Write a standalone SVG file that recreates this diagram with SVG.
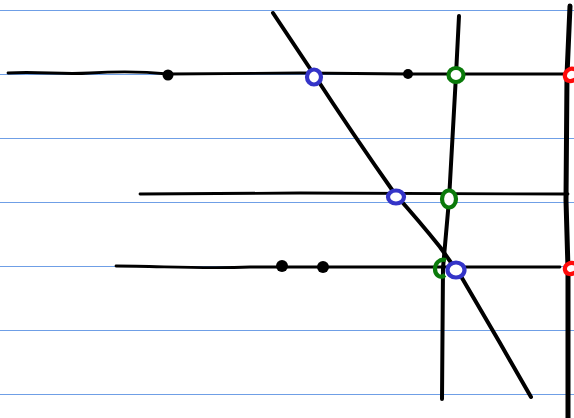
<svg xmlns="http://www.w3.org/2000/svg" width="574" height="418" viewBox="0 0 574 418">
<style>
.rule{stroke:#6f9fe6;stroke-width:1.2;fill:none}
.ink{stroke:#000;stroke-width:4;fill:none;stroke-linecap:round;stroke-linejoin:round}
.thick{stroke:#000;stroke-width:5;fill:none;stroke-linecap:round;stroke-linejoin:round}
.thin{stroke:#000;stroke-width:2.8;fill:none;stroke-linecap:round}
.dot{fill:#000}
.blue{stroke:#3434c8;stroke-width:4.2;fill:#fff}
.green{stroke:#0a7a0a;stroke-width:4.2;fill:#fff}
.red{stroke:#ff0a0a;stroke-width:4.2;fill:#fff}
</style>
<g id="rules">
<line class="rule" x1="0" y1="10.5" x2="574" y2="10.5"/>
<line class="rule" x1="0" y1="74.5" x2="574" y2="74.5"/>
<line class="rule" x1="0" y1="138.5" x2="574" y2="138.5"/>
<line class="rule" x1="0" y1="202.5" x2="574" y2="202.5"/>
<line class="rule" x1="0" y1="266.5" x2="574" y2="266.5"/>
<line class="rule" x1="0" y1="330.5" x2="574" y2="330.5"/>
<line class="rule" x1="0" y1="394.5" x2="574" y2="394.5"/>
</g>
<g id="connectors">
<path class="thin" d="M8 73 C40 71 60 75 90 73 S140 71 168 74 L300 73 L410 74 L574 74"/>
<path class="thin" d="M140 194 L300 193 L568 194"/>
<path class="thin" d="M116 266 C160 266 200 269 250 267 L560 267"/>
<path class="ink" d="M273 13 L313 73 Q352 133 395 194 Q420 222 440 247 L462 278 Q482 312 500 343 L531 397"/>
<path class="ink" d="M459 16 L456 75 L449 200 L443 268 L442 399"/>
<path class="thick" d="M570 6 L567 75 L566 200 L568 269 L568 418"/>
</g>
<g id="dots">
<circle class="dot" cx="168" cy="75" r="5.5"/>
<circle class="dot" cx="408" cy="74" r="5"/>
<circle class="dot" cx="282" cy="266" r="6"/>
<circle class="dot" cx="323" cy="267" r="6"/>
</g>
<g id="node-blue1"><ellipse class="blue" cx="314" cy="77" rx="7" ry="7.5"/></g>
<g id="node-green1"><ellipse class="green" cx="456" cy="75" rx="7.5" ry="7"/></g>
<g id="node-red1"><path class="red" d="M576 70 C570 66 564 72 565 77 C566 82 572 82 576 79"/></g>
<g id="node-blue2"><ellipse class="blue" cx="396" cy="197" rx="8" ry="6.5"/></g>
<g id="node-green2"><ellipse class="green" cx="449" cy="199" rx="7" ry="8.5"/></g>
<g id="node-green3"><path class="green" d="M446 260 C439 258 435 264 435 269 C435 275 440 279 445 275" style="fill:none"/></g>
<g id="node-blue3"><ellipse class="blue" cx="456" cy="270" rx="8.5" ry="7.5"/></g>
<g id="node-red2"><path class="red" d="M576 264 C570 261 564 265 565 270 C566 275 572 275 576 272"/></g>
</svg>
